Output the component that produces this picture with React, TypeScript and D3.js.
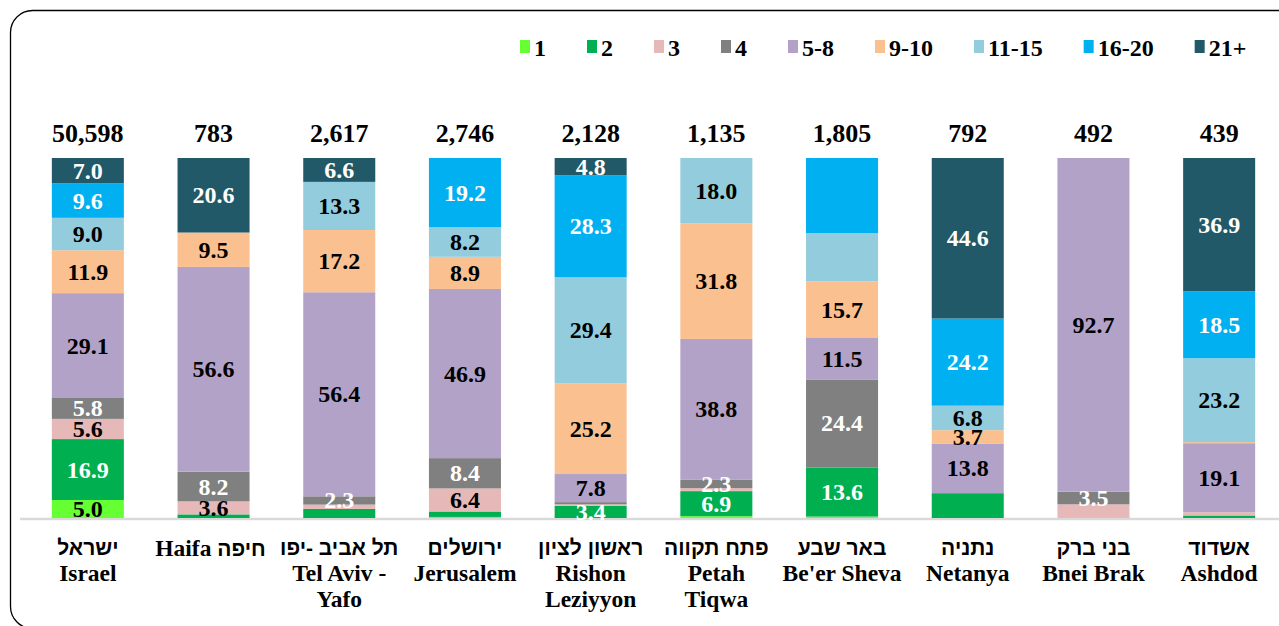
import React, { useEffect, useRef } from 'react';
import * as d3 from 'd3';

const cityHe = ['ישראל', 'חיפה', 'תל אביב -יפו', 'ירושלים', 'ראשון לציון', 'פתח תקווה', 'באר שבע', 'נתניה', 'בני ברק', 'אשדוד'];
const cityEn = [['Israel'], ['Haifa'], ['Tel Aviv -', 'Yafo'], ['Jerusalem'], ['Rishon', 'Leziyyon'], ['Petah', 'Tiqwa'], ["Be'er Sheva"], ['Netanya'], ['Bnei Brak'], ['Ashdod']];
const totals = [50598, 783, 2617, 2746, 2128, 1135, 1805, 792, 492, 439];

const bands = ['1', '2', '3', '4', '5-8', '9-10', '11-15', '16-20', '21+'];
const colors = ['#66FF33', '#00B050', '#E6B9B8', '#808080', '#B3A2C7', '#FAC090', '#93CDDD', '#00B0F0', '#215968'];
const whiteText = ['2', '4', '16-20', '21+'];

// percent of apartments by band, one array per band, cities in order above
const v1 = [5.0, 0, 0, 0.3, 0, 0.5, 0.4, 0, 0, 0];
const v2 = [16.9, 1.0, 2.5, 1.5, 3.4, 6.9, 13.6, 6.9, 0, 0.7];
const v3 = [5.6, 3.6, 1.2, 6.4, 0.4, 0.8, 0, 0, 3.8, 0.9];
const v4 = [5.8, 8.2, 2.3, 8.4, 0.6, 2.3, 24.4, 0, 3.5, 0];
const v5_8 = [29.1, 56.6, 56.4, 46.9, 7.8, 38.8, 11.5, 13.8, 92.7, 19.1];
const v9_10 = [11.9, 9.5, 17.2, 8.9, 25.2, 31.8, 15.7, 3.7, 0, 0.3];
const v11_15 = [9.0, 0, 13.3, 8.2, 29.4, 18.0, 13.4, 6.8, 0, 23.2];
const v16_20 = [9.6, 0, 0, 19.2, 28.3, 0, 20.8, 24.2, 0, 18.5];
const v21 = [7.0, 20.6, 6.6, 0, 4.8, 0, 0, 44.6, 0, 36.9];

// labels that the original leaves out
const hiddenLabels = [[6, '16-20'], [6, '11-15'], [7, '2'], [2, '2'], [8, '3']];

const App: React.FC = () => {
  const svgRef = useRef<SVGSVGElement>(null);

  useEffect(() => {
    if (!svgRef.current) return;
    const width = 1279;
    const height = 626;
    const serif = "'Liberation Serif', 'Times New Roman', Times, serif";
    const hebrew = "'Liberation Sans', Arial, sans-serif";

    const svg = d3.select(svgRef.current);
    svg.selectAll('*').remove();
    svg.attr('width', width).attr('height', height);

    // frame
    svg.append('rect')
      .attr('x', 10.5).attr('y', 10.5)
      .attr('width', 1290).attr('height', 618)
      .attr('rx', 22)
      .attr('fill', '#fff').attr('stroke', '#000').attr('stroke-width', 1.3);

    const series = [v1, v2, v3, v4, v5_8, v9_10, v11_15, v16_20, v21];
    const rows = cityEn.map((_, i) => {
      const r: Record<string, number> = { idx: i };
      bands.forEach((b, j) => { r[b] = series[j][i]; });
      return r;
    });

    const stack = d3.stack<Record<string, number>>().keys(bands).offset(d3.stackOffsetExpand);
    const stacked = stack(rows);

    const x = d3.scaleBand<number>()
      .domain(d3.range(cityEn.length))
      .range([25, 1282])
      .paddingInner(0.427)
      .paddingOuter(0.2135);

    const y = d3.scaleLinear().domain([0, 1]).range([518, 158]);

    // axis baseline
    svg.append('line')
      .attr('x1', 20).attr('x2', 1279)
      .attr('y1', 519).attr('y2', 519)
      .attr('stroke', '#d9d9d9').attr('stroke-width', 2.5);

    const layer = svg.append('g')
      .selectAll('g')
      .data(stacked)
      .enter()
      .append('g')
      .attr('fill', (_, i) => colors[i]);

    layer.selectAll('rect')
      .data(d => d.map(p => ({ p, key: d.key })))
      .enter()
      .append('rect')
      .attr('x', d => x(d.p.data.idx)!)
      .attr('width', x.bandwidth())
      .attr('y', d => y(d.p[1]))
      .attr('height', d => Math.max(0, y(d.p[0]) - y(d.p[1])));

    // segment labels
    const labels: { cx: number; cy: number; text: string; white: boolean }[] = [];
    stacked.forEach(s => {
      s.forEach(p => {
        const i = p.data.idx;
        const val = p.data[s.key];
        if (val < 2.3) return;
        if (hiddenLabels.some(h => h[0] === i && h[1] === s.key)) return;
        labels.push({
          cx: x(i)! + x.bandwidth() / 2,
          cy: (y(p[0]) + y(p[1])) / 2,
          text: val.toFixed(1),
          white: whiteText.includes(s.key),
        });
      });
    });

    svg.append('g')
      .selectAll('text')
      .data(labels)
      .enter()
      .append('text')
      .attr('x', d => d.cx)
      .attr('y', d => d.cy + 8)
      .attr('text-anchor', 'middle')
      .style('font-family', serif)
      .attr('font-weight', 'bold')
      .attr('font-size', 24)
      .attr('fill', d => (d.white ? '#fff' : '#000'))
      .text(d => d.text);

    // totals
    svg.append('g')
      .selectAll('text')
      .data(totals)
      .enter()
      .append('text')
      .attr('x', (_, i) => x(i)! + x.bandwidth() / 2)
      .attr('y', 142)
      .attr('text-anchor', 'middle')
      .style('font-family', serif)
      .attr('font-weight', 'bold')
      .attr('font-size', 26)
      .text(d => d3.format(',')(d));

    // category labels
    const cat = svg.append('g')
      .selectAll('g')
      .data(cityEn)
      .enter()
      .append('g')
      .attr('transform', (_, i) => `translate(${x(i)! + x.bandwidth() / 2},0)`);

    cat.each(function (en, i) {
      const g = d3.select(this);
      if (i === 1) {
        const t = g.append('text')
          .attr('x', -3)
          .attr('y', 556)
          .attr('text-anchor', 'middle')
          .attr('font-weight', 'bold');
        t.append('tspan')
          .style('font-family', serif)
          .attr('font-size', 23.5)
          .text(`${en[0]}  `);
        t.append('tspan')
          .style('font-family', hebrew)
          .attr('font-size', 21)
          .text(cityHe[i]);
        return;
      }
      g.append('text')
        .attr('y', 555)
        .attr('text-anchor', 'middle')
        .style('font-family', hebrew)
        .attr('font-weight', 'bold')
        .attr('font-size', 21)
        .text(cityHe[i]);
      en.forEach((line, k) => {
        g.append('text')
          .attr('y', 581 + k * 26)
          .attr('text-anchor', 'middle')
          .style('font-family', serif)
          .attr('font-weight', 'bold')
          .attr('font-size', 23.5)
          .text(line);
      });
    });

    // legend
    const legend = svg.append('g');
    let lx = 520;
    bands.forEach((b, i) => {
      legend.append('rect')
        .attr('x', lx).attr('y', 40)
        .attr('width', 10).attr('height', 13)
        .attr('fill', colors[i]);
      const t = legend.append('text')
        .attr('x', lx + 14).attr('y', 56)
        .style('font-family', serif)
        .attr('font-weight', 'bold')
        .attr('font-size', 24)
        .text(b);
      const w = (t.node() as SVGTextElement).getComputedTextLength();
      lx += 14 + w + 41;
    });
  }, []);

  return (
    <div style={{ position: 'absolute', left: 0, top: 0 }}>
      <svg ref={svgRef} style={{ display: 'block' }}></svg>
    </div>
  );
};

export default App;
